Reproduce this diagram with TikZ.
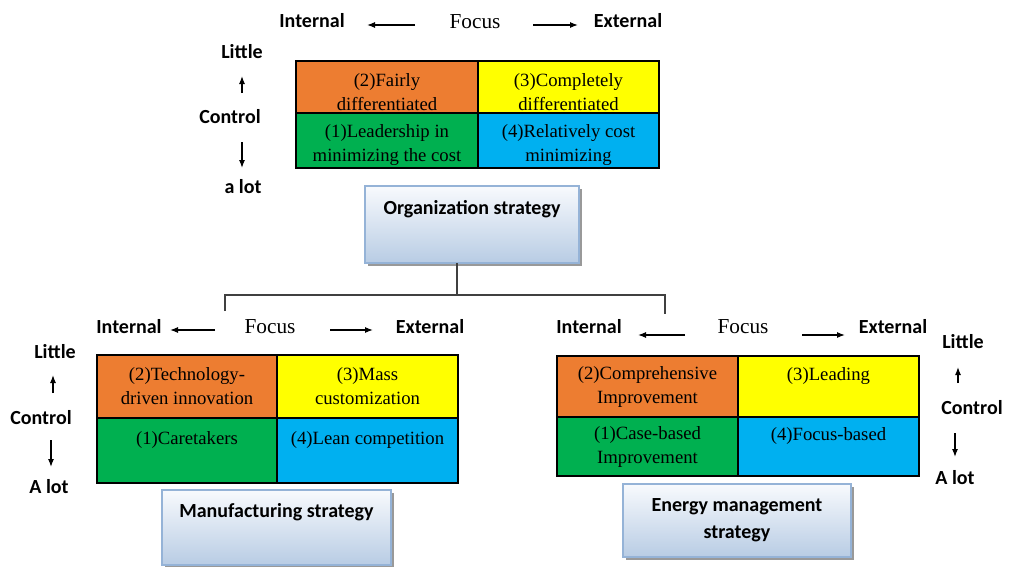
\documentclass[tikz,border=0pt]{standalone}
\usepackage{fontspec}
\setmainfont{Liberation Serif}
\newfontfamily\lblfont{Carlito}
\usetikzlibrary{positioning,shadows,arrows.meta}
\definecolor{orangeC}{RGB}{237,125,49}
\definecolor{yellowC}{RGB}{255,255,0}
\definecolor{greenC}{RGB}{0,176,80}
\definecolor{blueC}{RGB}{0,176,240}
\definecolor{boxtop}{RGB}{248,250,253}
\definecolor{boxbot}{RGB}{184,204,228}
\definecolor{boxline}{RGB}{149,179,215}
\begin{document}
\begin{tikzpicture}[x=1pt,y=-1pt]
	\tikzset{
		cell/.style={draw=black, line width=1.2pt, inner sep=0pt, outer sep=0pt, align=center,
			font=\fontsize{18.7}{24}\selectfont},
		lbl/.style={font=\lblfont\bfseries\fontsize{20}{24}\selectfont},
		focus/.style={font=\fontsize{21.3}{24}\selectfont},
		arr/.style={line width=1.2pt, -{Latex[length=8pt,width=6pt]}},
		sbox/.style={draw=boxline, line width=1.2pt, top color=boxtop, bottom color=boxbot,
			align=center, inner sep=0pt, outer sep=0pt,
			drop shadow={shadow xshift=3pt, shadow yshift=-3pt, fill=gray!80, opacity=1},
			font=\lblfont\bfseries\fontsize{20}{27}\selectfont},
		branch/.style={line width=1.3pt, black!75}
	}
	\useasboundingbox (0,0) rectangle (1014,566);
	
	% Organization strategy
	\node[lbl] (oInt) at (312,21) {Internal};
	\node[focus] (oFoc) at (475,22) {Focus};
	\node[lbl] (oExt) at (628,21) {External};
	\coordinate (oaL1) at (415,25); \coordinate (oaL2) at (367,25);
	\coordinate (oaR1) at (533,25); \coordinate (oaR2) at (578,25);
	\draw[arr] (oaL1) -- (oaL2);
	\draw[arr] (oaR1) -- (oaR2);
	
	\node[lbl] (oLit) at (242,52) {Little};
	\node[lbl] (oCon) at (230,117) {Control};
	\node[lbl] (oLot) at (243,187) {a lot};
	\coordinate (oaU1) at (242,93); \coordinate (oaU2) at (242,76);
	\coordinate (oaD1) at (242,142); \coordinate (oaD2) at (242,168);
	\draw[arr] (oaU1) -- (oaU2);
	\draw[arr] (oaD1) -- (oaD2);
	
	\node[cell, fill=orangeC, minimum width=182pt, minimum height=52pt, anchor=north west] (o2) at (296,61) {\rule{0pt}{23pt}(2)Fairly\\differentiated};
	\node[cell, fill=yellowC, minimum width=181pt, minimum height=52pt, right=0pt of o2] (o3) {\rule{0pt}{23pt}(3)Completely\\differentiated};
	\node[cell, fill=greenC, minimum width=182pt, minimum height=55pt, below=0pt of o2] (o1) {\rule{0pt}{23pt}(1)Leadership in\\minimizing the cost};
	\node[cell, fill=blueC, minimum width=181pt, minimum height=55pt, below=0pt of o3] (o4) {\rule{0pt}{23pt}(4)Relatively cost\\minimizing};
	
	\node[sbox, minimum width=214pt, minimum height=77pt, anchor=north west] (orgS) at (365,186) {Organization strategy\\[8pt]~};
	
	% Branches
	\coordinate (jn) at (457,295);
	\coordinate (lt) at (225,295); \coordinate (lb) at (225,311);
	\coordinate (rt) at (665,295); \coordinate (rb) at (665,314);
	\draw[branch] (orgS.south -| jn) -- (jn);
	\draw[branch] (lb) -- (lt) -- (rt) -- (rb);
	
	% Manufacturing strategy
	\node[lbl] (mInt) at (129,327) {Internal};
	\node[focus] (mFoc) at (270,327) {Focus};
	\node[lbl] (mExt) at (430,327) {External};
	\coordinate (maL1) at (215,330); \coordinate (maL2) at (170,330);
	\coordinate (maR1) at (330,330); \coordinate (maR2) at (373,330);
	\draw[arr] (maL1) -- (maL2);
	\draw[arr] (maR1) -- (maR2);
	
	\node[lbl] (mLit) at (55,352) {Little};
	\node[lbl] (mCon) at (41,418) {Control};
	\node[lbl] (mLot) at (49,487) {A lot};
	\coordinate (maU1) at (53,393); \coordinate (maU2) at (53,375);
	\coordinate (maD1) at (51,440); \coordinate (maD2) at (51,467);
	\draw[arr] (maU1) -- (maU2);
	\draw[arr] (maD1) -- (maD2);
	
	\node[cell, fill=orangeC, minimum width=180pt, minimum height=63pt, anchor=north west] (m2) at (97,355) {(2)Technology-\\driven innovation};
	\node[cell, fill=yellowC, minimum width=181pt, minimum height=63pt, right=0pt of m2] (m3) {(3)Mass\\customization};
	\node[cell, fill=greenC, minimum width=180pt, minimum height=65pt, below=0pt of m2] (m1) {(1)Caretakers\\~};
	\node[cell, fill=blueC, minimum width=181pt, minimum height=65pt, below=0pt of m3] (m4) {(4)Lean competition\\~};
	
	\node[sbox, minimum width=229pt, minimum height=75pt, anchor=north west] (manS) at (162,490) {Manufacturing strategy\\[8pt]~};
	
	% Energy management strategy
	\node[lbl] (eInt) at (589,327) {Internal};
	\node[focus] (eFoc) at (743,327) {Focus};
	\node[lbl] (eExt) at (893,327) {External};
	\coordinate (eaL1) at (685,335); \coordinate (eaL2) at (638,335);
	\coordinate (eaR1) at (802,335); \coordinate (eaR2) at (845,335);
	\draw[arr] (eaL1) -- (eaL2);
	\draw[arr] (eaR1) -- (eaR2);
	
	\node[lbl] (eLit) at (963,342) {Little};
	\node[lbl] (eCon) at (972,408) {Control};
	\node[lbl] (eLot) at (955,478) {A lot};
	\coordinate (eaU1) at (958,383); \coordinate (eaU2) at (958,367);
	\coordinate (eaD1) at (955,433); \coordinate (eaD2) at (955,457);
	\draw[arr] (eaU1) -- (eaU2);
	\draw[arr] (eaD1) -- (eaD2);
	
	\node[cell, fill=orangeC, minimum width=181pt, minimum height=61pt, anchor=north west] (e2) at (557,356) {(2)Comprehensive\\Improvement};
	\node[cell, fill=yellowC, minimum width=181pt, minimum height=61pt, right=0pt of e2] (e3) {(3)Leading\\~};
	\node[cell, fill=greenC, minimum width=181pt, minimum height=59pt, below=0pt of e2] (e1) {(1)Case-based\\Improvement};
	\node[cell, fill=blueC, minimum width=181pt, minimum height=59pt, below=0pt of e3] (e4) {(4)Focus-based\\~};
	
	\node[sbox, minimum width=228pt, minimum height=73pt, anchor=north west] (enS) at (623,484) {Energy management\\strategy};
\end{tikzpicture}
\end{document}
